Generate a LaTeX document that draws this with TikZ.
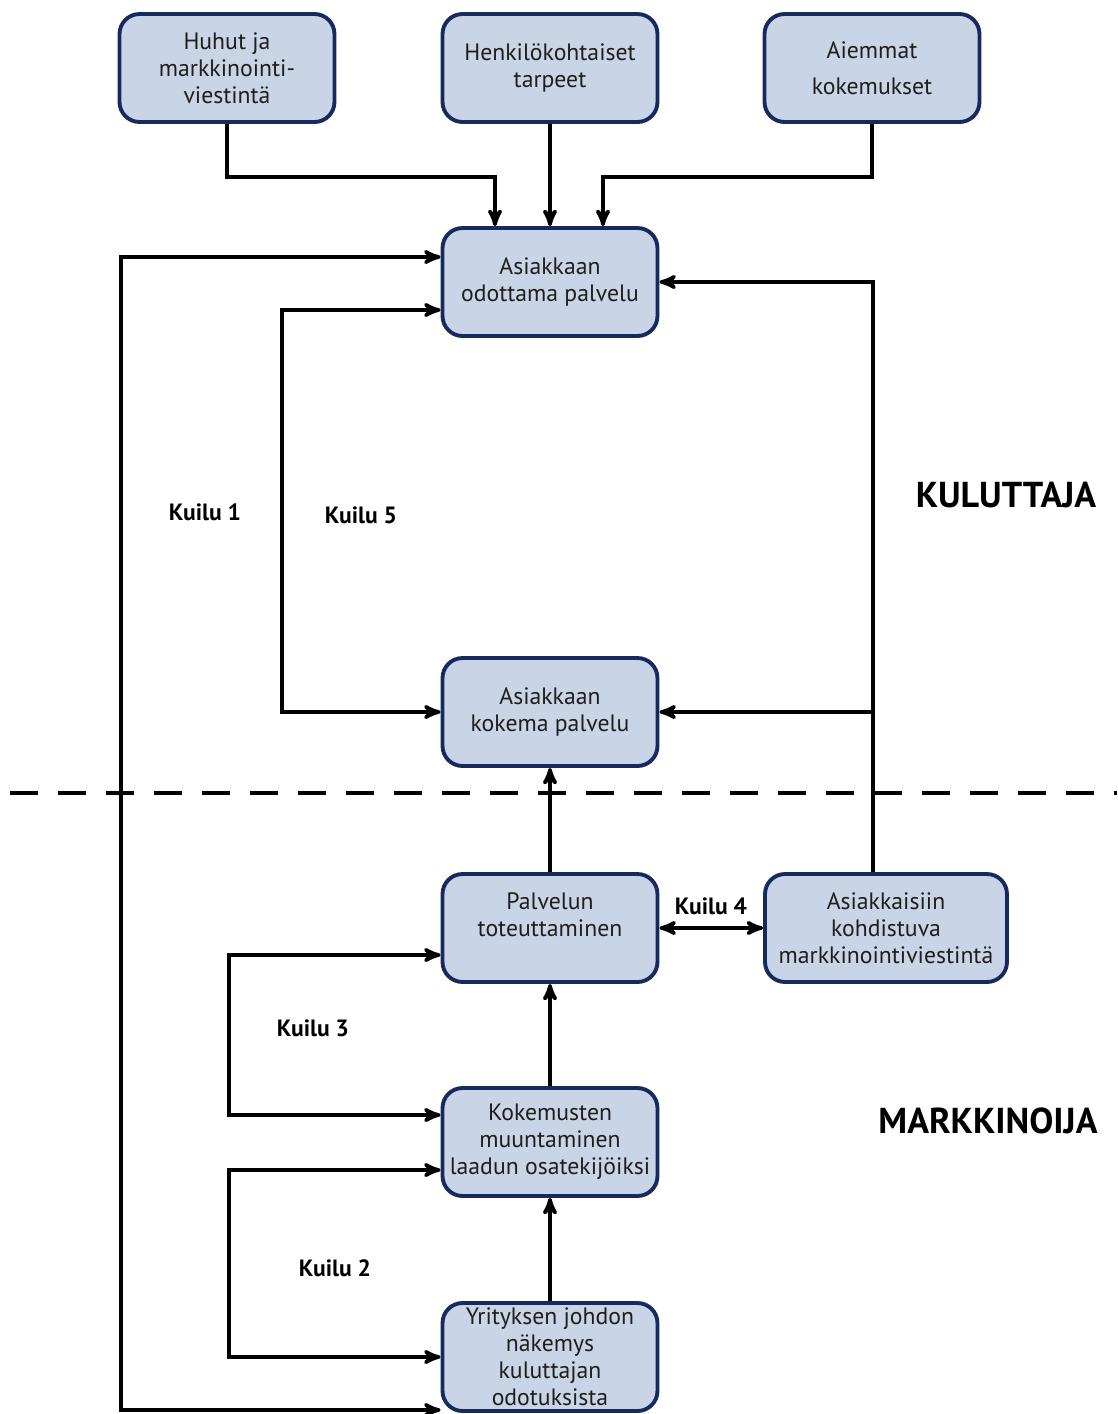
\documentclass[tikz,border=0pt]{standalone}
\usepackage{fontspec}
\setmainfont{PT Sans}
\usetikzlibrary{arrows}
\definecolor{boxfill}{RGB}{201,213,230}
\definecolor{boxline}{RGB}{22,42,94}
\definecolor{txt}{RGB}{30,30,30}

\begin{document}
\begin{tikzpicture}[x=0.02cm,y=-0.02cm,>={stealth'[scale=1.3]},line width=2.1pt,
  box/.style={draw=boxline,fill=boxfill,rounded corners=0.4cm,line width=2.2pt,
    minimum width=4.3cm,minimum height=2.16cm,align=center,inner sep=1pt,
    text=txt,font=\fontsize{13.5}{15.4}\selectfont},
  gap/.style={font=\bfseries\fontsize{13.4}{15}\selectfont},
  side/.style={font=\bfseries\fontsize{20.5}{24}\selectfont}]

\useasboundingbox (0,0) rectangle (1117,1414);

% define the boxes
  \node[box] (huhut)    at (227,68)
{Huhut ja\\markkinointi-\\viestintä};
  \node[box] (tarpeet)  at (550,68)
{Henkilökohtaiset\\tarpeet};
  \node[box] (aiemmat)  at (872,68)
{Aiemmat\\[0.18cm]kokemukset};
  \node[box] (odottama) at (550,282)
{Asiakkaan\\odottama palvelu};
  \node[box] (kokema)   at (550,712)
{Asiakkaan\\kokema palvelu};
  \node[box] (toteutus) at (550,928)
{Palvelun\\toteuttaminen\\\mbox{}};
  \node[box,minimum width=4.84cm] (viestinta) at (886,928)
{Asiakkaisiin\\kohdistuva\\markkinointiviestintä};
  \node[box] (laatu)    at (550,1142)
{Kokemusten\\muuntaminen\\laadun osatekijöiksi};
  \node[box,inner ysep=0pt] (johto)    at (550,1357)
{Yrityksen johdon\\näkemys\\kuluttajan\\odotuksista};

% side texts and gaps
  \node[side] (kul)  at (1006,495) {KULUTTAJA};
  \node[side] (mark) at (988,1121) {MARKKINOIJA};
  \node[gap] (g1) at (205,512)  {Kuilu 1};
  \node[gap] (g5) at (361,515)  {Kuilu 5};
  \node[gap] (g4) at (711,906)  {Kuilu 4};
  \node[gap] (g3) at (313,1028) {Kuilu 3};
  \node[gap] (g2) at (335,1268) {Kuilu 2};

% bend points of the long lines
  \coordinate (k1) at (121,800);
  \coordinate (k5) at (282,500);
  \coordinate (k3) at (229,1030);
  \coordinate (k2) at (229,1260);
  \coordinate (oikea) at ([xshift=-0.26cm]viestinta.north |- kokema.east);

% define the links
  \draw[->] (huhut.south) -- ++(0,53) -| ([xshift=-1.1cm]odottama.north);
  \draw[->] (tarpeet) -- (odottama);
  \draw[->] (aiemmat.south) -- ++(0,53) -| ([xshift=1.06cm]odottama.north);
  \draw[<->] ([yshift=0.5cm]odottama.west) -| (k1) |- ([yshift=-1.06cm]johto.west);
  \draw[<->] ([yshift=-0.56cm]odottama.west) -| (k5) |- (kokema.west);
  \draw[->] ([xshift=-0.26cm]viestinta.north) |- (odottama.east);
  \draw[->] (oikea) -- (kokema.east);
  \draw[->] (toteutus) -- (kokema);
  \draw[<->] (toteutus) -- (viestinta);
  \draw[<->] ([yshift=-0.54cm]toteutus.west) -| (k3) |- ([yshift=0.54cm]laatu.west);
  \draw[->] (laatu) -- (toteutus);
  \draw[<->] ([yshift=-0.56cm]laatu.west) -| (k2) |- (johto.west);
  \draw[->] (johto) -- (laatu);

% border between the two sides
  \draw[dash pattern=on 0.56cm off 0.4cm,line width=2.2pt] (10,793) -- (1117,793);

\end{tikzpicture}
\end{document}
